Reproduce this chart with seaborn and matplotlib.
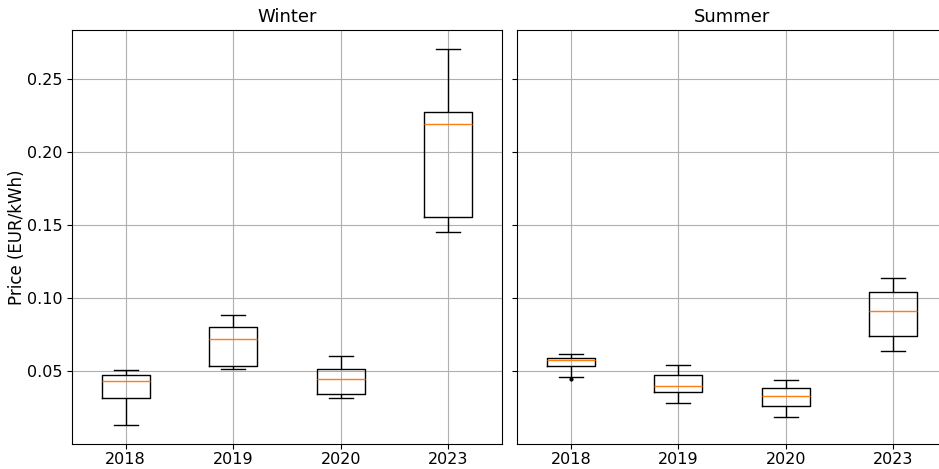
import matplotlib
matplotlib.use("Agg")
import matplotlib.pyplot as plt
import pandas as pd
import seaborn as sns

# Retail electricity price distributions per season and year (EUR/kWh)
years = ["2018", "2019", "2020", "2023"]

winter_low = [0.0130, 0.0512, 0.0315, 0.1450]
winter_q1 = [0.0313, 0.0534, 0.0340, 0.1553]
winter_median = [0.0432, 0.0717, 0.0447, 0.2192]
winter_q3 = [0.0470, 0.0799, 0.0512, 0.2276]
winter_high = [0.0507, 0.0886, 0.0600, 0.2705]
winter_outliers = [[], [], [], []]

summer_low = [0.0457, 0.0279, 0.0185, 0.0635]
summer_q1 = [0.0534, 0.0356, 0.0260, 0.0742]
summer_median = [0.0573, 0.0395, 0.0331, 0.0911]
summer_q3 = [0.0589, 0.0470, 0.0384, 0.1043]
summer_high = [0.0614, 0.0539, 0.0438, 0.1139]
summer_outliers = [[0.0443], [], [], []]


def observations(lo, q1, med, q3, hi, outliers):
    """Nine sorted values whose quartiles and 1.5*IQR whiskers equal the given stats."""
    below = [v for v in outliers if v < lo]
    above = [v for v in outliers if v > hi]
    return [*(below or [lo]), lo, q1, q1, med, med, q3, hi, *(above or [hi])]


def season_frame(lo, q1, med, q3, hi, outliers):
    rows = []
    for i, year in enumerate(years):
        for v in observations(lo[i], q1[i], med[i], q3[i], hi[i], outliers[i]):
            rows.append({"year": year, "price": v})
    return pd.DataFrame(rows)


winter = season_frame(winter_low, winter_q1, winter_median, winter_q3, winter_high, winter_outliers)
summer = season_frame(summer_low, summer_q1, summer_median, summer_q3, summer_high, summer_outliers)

W, H = 939, 469
fig = plt.figure(figsize=(W / 100, H / 100), dpi=100)
ax1 = fig.add_axes([72 / W, (H - 444) / H, 430 / W, 414 / H])
ax2 = fig.add_axes([517 / W, (H - 444) / H, 430 / W, 414 / H], sharey=ax1)

box_kws = dict(
    x="year", y="price", order=years, width=0.45, fill=False, color="black",
    linewidth=1.0, whis=1.5,
    medianprops=dict(color="#ff7f0e", linewidth=1.0),
    flierprops=dict(marker="o", markersize=2, markerfacecolor="black",
                    markeredgecolor="black"),
)

for ax, df, title in [(ax1, winter, "Winter"), (ax2, summer, "Summer")]:
    sns.boxplot(data=df, ax=ax, **box_kws)
    ax.set_title(title, fontsize=13, pad=5.5)
    ax.set_xlabel("")
    ax.grid(True, color="#b0b0b0", linewidth=0.8)
    ax.set_axisbelow(True)
    ax.tick_params(labelsize=11.5)
    ax.tick_params(axis="x", pad=2.5)

ax1.set_ylabel("Price (EUR/kWh)", fontsize=12)
ax1.yaxis.set_label_coords(-0.107, 0.5)
ax2.set_ylabel("")
ax2.tick_params(labelleft=False)
ax1.set_yticks([0.05, 0.10, 0.15, 0.20, 0.25])

fig.savefig("out.png", dpi=100)
